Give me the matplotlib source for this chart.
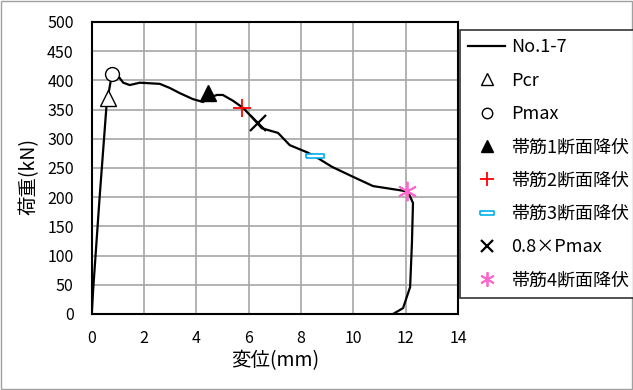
import numpy as np
import matplotlib.pyplot as plt
from matplotlib.patches import Rectangle

plt.rcParams['font.family'] = ['Noto Sans CJK JP', 'DejaVu Sans']

# load-displacement curve (No.1-7)
disp = [0.0, 0.05, 0.3, 0.56, 0.65, 0.72, 0.82, 0.95, 1.05, 1.2, 1.45, 1.84, 2.6,
        2.98, 3.37, 3.86, 4.25, 4.5, 4.78, 5.01, 5.4, 5.78, 6.1, 6.5, 7.12, 7.57,
        8.22, 8.53, 9.18, 9.98, 10.75, 11.9, 12.09, 12.28, 12.24, 12.17, 11.9, 11.52]
load = [0, 40, 200, 355, 380, 398, 402, 406, 405, 396, 392, 396, 394,
        387, 378, 368, 363, 370, 375, 375, 365, 353, 338, 318, 310, 289,
        277, 270, 252, 235, 219, 211, 209, 190, 122, 46, 10, 0]

# event points
pcr = (0.61, 370)
pmax = (0.77, 411)
hoop1 = (4.44, 378)
hoop2 = (5.74, 353)
hoop3 = (8.53, 271)
p08 = (6.35, 327)
hoop4 = (12.05, 210)

fig = plt.figure(figsize=(6.33, 3.9), dpi=100)
ax = fig.add_axes([0.145, 0.195, 0.5785, 0.7487])

ax.plot(disp, load, color='black', lw=1.6, label='No.1-7', zorder=3)

rect = [(-1, -0.25), (1, -0.25), (1, 0.25), (-1, 0.25), (-1, -0.25)]
ax.plot(*pcr, ls='none', marker='^', ms=12, mfc='white', mec='black', mew=1.0, label='Pcr', zorder=4)
ax.plot(*pmax, ls='none', marker='o', ms=10, mfc='white', mec='black', mew=1.0, label='Pmax', zorder=4)
ax.plot(*hoop1, ls='none', marker='^', ms=12, mfc='black', mec='black', label='帯筋1断面降伏', zorder=4)
ax.plot(*hoop2, ls='none', marker='+', ms=13, mec='red', mew=1.3, label='帯筋2断面降伏', zorder=4)
ax.plot(*hoop3, ls='none', marker=rect, ms=12.5, mfc='white', mec='#00B0F0', mew=1.2, label='帯筋3断面降伏', zorder=4)
ax.plot(*p08, ls='none', marker='x', ms=11, mec='black', mew=1.6, label='0.8×Pmax', zorder=4)
ax.plot(*hoop4, ls='none', marker=(6, 2, 0), ms=14, mec='#FF66CC', mew=1.3, label='帯筋4断面降伏', zorder=4)

ax.set_xlim(0, 14)
ax.set_ylim(0, 500)
ax.set_xticks(np.arange(0, 15, 2))
ax.set_yticks(np.arange(0, 501, 50))
ax.grid(True, color='#A6A6A6', lw=1.2)
ax.set_axisbelow(True)
ax.tick_params(length=0, labelsize=11.5)
ax.tick_params(axis='x', pad=11.5)
ax.tick_params(axis='y', pad=13)
for s in ax.spines.values():
    s.set_linewidth(1.5)
    s.set_color('black')

ax.set_xlabel('変位(mm)', fontsize=14, labelpad=2)
ax.set_ylabel('荷重(kN)', fontsize=14)
ax.yaxis.set_label_coords(-0.142, 0.47)

leg = fig.legend(loc='upper left', bbox_to_anchor=(0.727, 0.923), fontsize=13,
                 frameon=True, fancybox=False, edgecolor='black', labelspacing=0.85,
                 handlelength=2.05, handletextpad=0.3, borderpad=0.45, borderaxespad=0,
                 markerscale=0.75)
leg.get_frame().set_linewidth(1.2)

fig.patches.append(Rectangle((0.002, 0.003), 0.996, 0.994, transform=fig.transFigure,
                             fill=False, edgecolor='#A0A0A0', lw=1.0))

fig.savefig('out.png', dpi=100)
